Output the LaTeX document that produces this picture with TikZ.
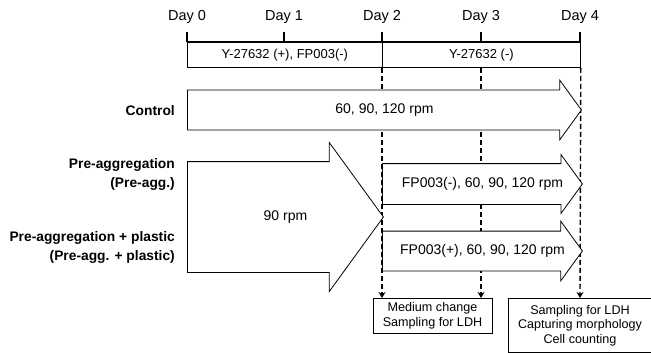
\documentclass[tikz,border=0pt]{standalone}
\usepackage{fontspec}
\setmainfont{Liberation Sans}
\usetikzlibrary{arrows.meta,shapes.arrows,calc}

\begin{document}
\begin{tikzpicture}[x=1pt,y=-1pt,
lbl/.style={font=\fontsize{14}{16}\selectfont},
daylbl/.style={font=\fontsize{14.5}{16}\selectfont},
grp/.style={font=\fontsize{13.8}{19}\selectfont\bfseries,align=right,anchor=east,inner sep=0pt},
period/.style={draw,line width=0.8pt,minimum height=25pt,anchor=north west,inner sep=0pt,font=\fontsize{13}{15}\selectfont},
flow/.style={single arrow,draw,line width=0.8pt,fill=white,single arrow tip angle=108,anchor=tail,inner sep=0pt},
shaft/.style={text height=#1/2,text depth=#1/2},
note/.style={draw,line width=0.8pt,anchor=north,align=center,inner sep=0pt,font=\fontsize{12.6}{14.6}\selectfont},
samp/.style={-{Stealth[length=6pt,width=7pt]},line width=1.4pt,dash pattern=on 5pt off 3pt}]
\useasboundingbox (0,0) rectangle (651,353);
% time axis
\foreach \d/\x in {0/187,1/284,2/382,3/481,4/580}{
  \coordinate (d\d) at (\x,42);
  \draw[line width=1.2pt] (d\d) -- ++(0,-10);
  \node[daylbl] (day\d) at (\x,17) {Day \d};
}
\draw[line width=2pt] (d0) -- (d4);
\node[period,minimum width=195pt] (yplus) at (d0) {Y-27632 (+), FP003(-)};
\node[period,minimum width=198pt] (yminus) at (d2) {Y-27632 (-)};
% sampling boxes
\node[note,minimum width=119pt,minimum height=35pt] (medium) at (432.5,298) {Medium change\\Sampling for LDH};
\node[note,minimum width=144pt,minimum height=54pt] (final) at (580,298) {Sampling for LDH\\Capturing morphology\\Cell counting};
\draw[samp] (yminus.south west) -- (yminus.south west |- medium.north);
\draw[samp] (d3 |- yminus.south) -- (d3 |- medium.north);
\draw[samp] (yminus.south east) -- (final.north);
% culture conditions
\node[flow,shaft=39pt,minimum height=394pt,minimum width=59pt,single arrow head extend=10pt] (ctrl) at (187,110) {};
\node[flow,shaft=110pt,minimum height=196pt,minimum width=148pt,single arrow head extend=19pt] (preagg) at (187,217) {};
\node[flow,shaft=40pt,minimum height=200pt,minimum width=58pt,single arrow head extend=9pt] (fpminus) at (382,184) {};
\node[flow,shaft=39pt,minimum height=200pt,minimum width=59pt,single arrow head extend=10pt] (fpplus) at (382,251) {};
\node[lbl] (ctrlrate) at ($(ctrl.tail)!.5!(ctrl.tip)$) {60, 90, 120 rpm};
\node[lbl] (preaggrate) at ($(preagg.tail)!.5!(preagg.tip)$) {90 rpm};
\node[lbl] (fpminusrate) at ($(fpminus.tail)!.5!(fpminus.tip)$) {FP003(-), 60, 90, 120 rpm};
\node[lbl] (fpplusrate) at ($(fpplus.tail)!.5!(fpplus.tip)$) {FP003(+), 60, 90, 120 rpm};
% group labels
\node[grp] (control) at (175,111) {Control};
\node[grp] (pre) at (175,174.5) {Pre-aggregation\\(Pre-agg.)};
\node[grp] (plastic) at (175,247.5) {Pre-aggregation + plastic\\(Pre-agg. + plastic)};
\end{tikzpicture}
\end{document}
